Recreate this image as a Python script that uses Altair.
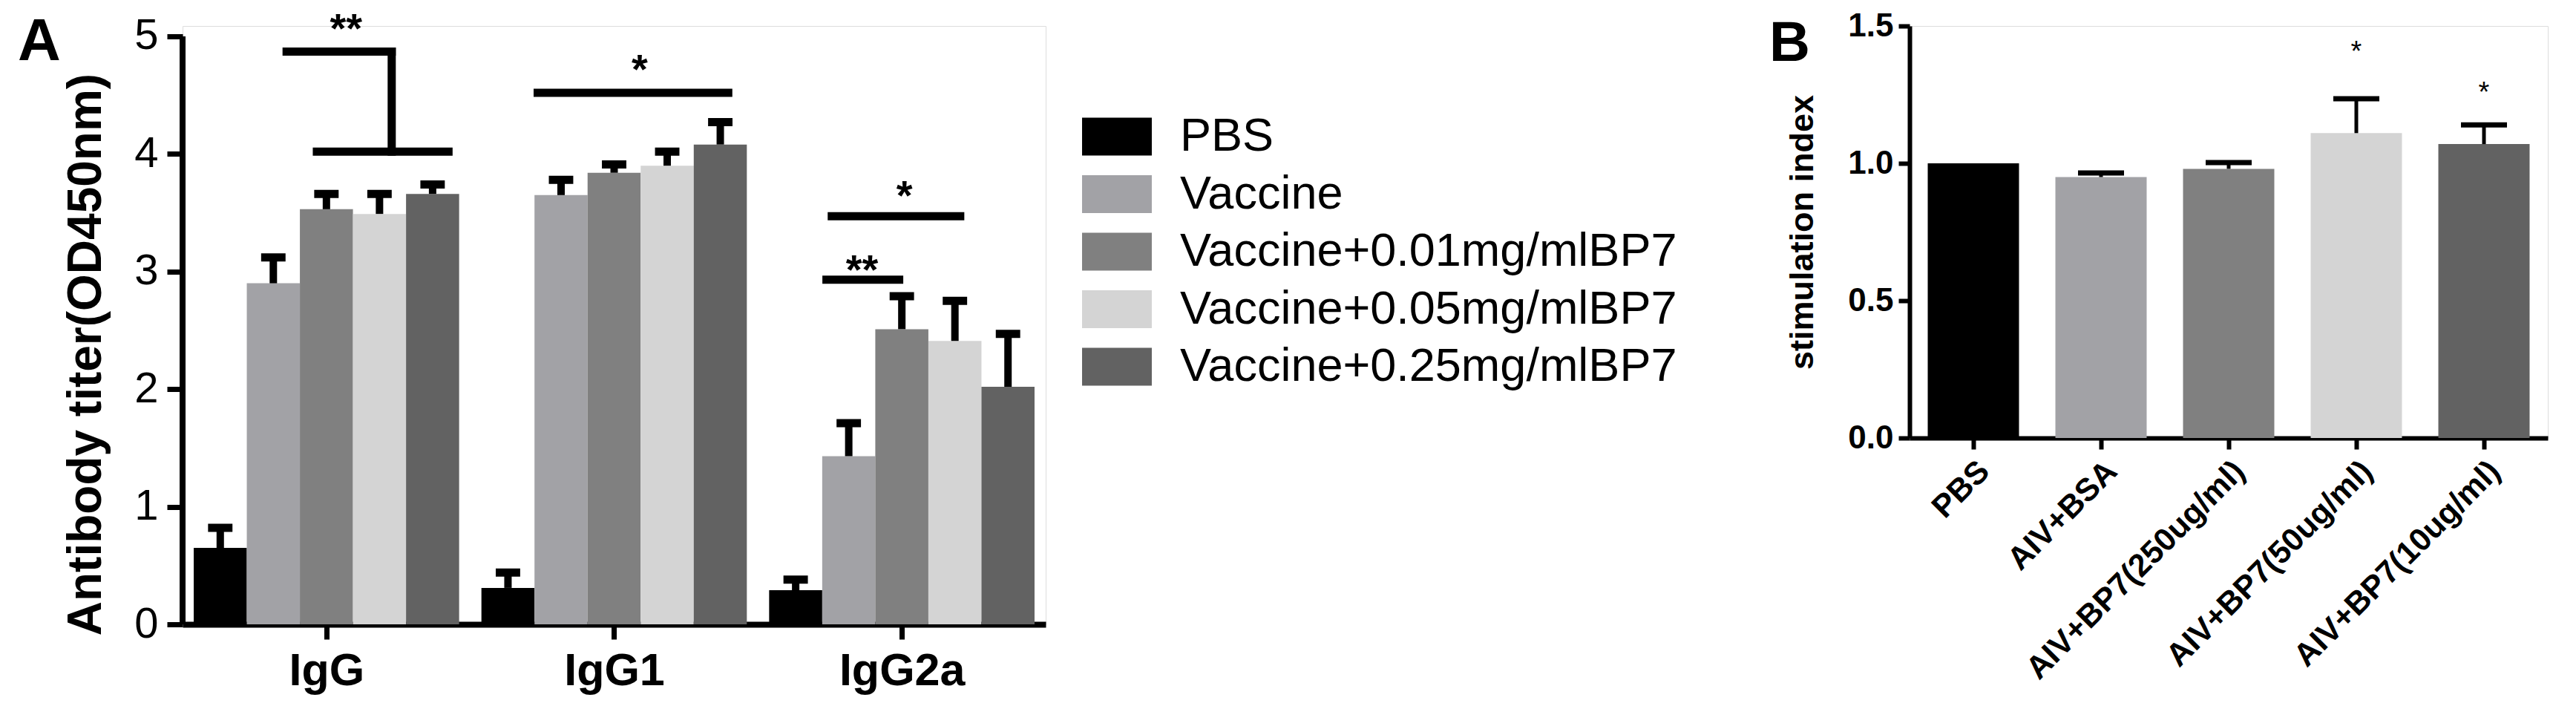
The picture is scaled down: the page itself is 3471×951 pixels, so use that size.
import json
import altair as alt
import pandas as pd

FONT = "Liberation Sans"

# ---------------- Panel A data ----------------
groups = ["IgG", "IgG1", "IgG2a"]
series = ["PBS", "Vaccine", "Vaccine+0.01mg/mlBP7",
          "Vaccine+0.05mg/mlBP7", "Vaccine+0.25mg/mlBP7"]
series_colors = ["#000000", "#a2a2a6", "#808080", "#d4d4d4", "#626262"]

igg_mean = [0.65, 2.90, 3.53, 3.49, 3.66]
igg_top = [0.82, 3.12, 3.66, 3.66, 3.74]
igg1_mean = [0.31, 3.65, 3.84, 3.90, 4.08]
igg1_top = [0.44, 3.78, 3.91, 4.02, 4.27]
igg2a_mean = [0.29, 1.43, 2.51, 2.41, 2.02]
igg2a_top = [0.38, 1.71, 2.79, 2.75, 2.47]

# significance brackets (group index, from/to in bar-index units, y levels)
sig_group = [0, 0, 0, 1, 2, 2]
sig_from = [1.25, 3.23, 1.82, 0.56, 0.58, 0.68]
sig_to = [3.23, 3.23, 4.30, 4.15, 1.95, 3.10]
sig_y = [4.87, 4.87, 4.02, 4.52, 2.93, 3.47]
sig_y2 = [4.87, 4.02, 4.02, 4.52, 2.93, 3.47]

star_group = [0, 1, 2, 2]
star_pos = [2.37, 2.48, 1.25, 2.05]
star_y = [4.95, 4.60, 2.90, 3.53]
star_text = ["**", "*", "**", "*"]

# ---------------- Panel B data ----------------
b_cats = ["PBS", "AIV+BSA", "AIV+BP7(250ug/ml)", "AIV+BP7(50ug/ml)", "AIV+BP7(10ug/ml)"]
b_colors = ["#000000", "#a2a2a6", "#808080", "#d4d4d4", "#626262"]
b_mean = [1.00, 0.95, 0.98, 1.11, 1.07]
b_top = [1.00, 0.965, 1.003, 1.235, 1.14]
b_star = ["", "", "", "*", "*"]
b_star_y = [None, None, None, 1.373, 1.224]

# ---------------- layout constants (panel A x units = bar widths) ----------------
GAP = 0.42
OUTER = 0.21
STRIDE = len(series) + GAP
DMAX = 2 * OUTER + len(groups) * len(series) + (len(groups) - 1) * GAP
A_W, A_H = 1163, 806
A_YMAX = 5.088
B_W, B_H = 860, 555

rows = []
for g, (gname, m, t) in enumerate(zip(groups, [igg_mean, igg1_mean, igg2a_mean],
                                       [igg_top, igg1_top, igg2a_top])):
    for j, s in enumerate(series):
        rows.append({"group": gname, "g": g, "series": s, "j": j, "mean": m[j], "top": t[j]})
df_a = pd.DataFrame(rows)

df_sig = pd.DataFrame({"g": sig_group, "a": sig_from, "b": sig_to, "y": sig_y, "y2": sig_y2})
df_star = pd.DataFrame({"g": star_group, "p": star_pos, "y": star_y, "t": star_text})

xs = alt.Scale(domain=[0, DMAX], nice=False, zero=False)
ys_a = alt.Scale(domain=[0, A_YMAX], nice=False)

centers = [g * STRIDE + OUTER + len(series) / 2 for g in range(len(groups))]
label_expr = "%s[round((datum.value - %f) / %f)]" % (json.dumps(groups), centers[0], STRIDE)

x_axis_a = alt.Axis(values=centers, labelExpr=label_expr, title=None, grid=False,
                    domain=True, domainWidth=8, domainColor="black",
                    ticks=True, tickSize=20, tickWidth=7, tickColor="black",
                    labelFont=FONT, labelFontSize=61, labelFontWeight="bold",
                    labelColor="black", labelPadding=13, labelAngle=0)
y_axis_a = alt.Axis(values=[0, 1, 2, 3, 4, 5], format="d", grid=False, domain=False,
                    ticks=True, tickSize=21, tickWidth=7, tickColor="black",
                    labelFont=FONT, labelFontSize=58, labelColor="black", labelPadding=12,
                    title="Antibody titer(OD450nm)", titleFont=FONT, titleFontSize=64,
                    titleFontWeight="bold", titleColor="black", titlePadding=32, titleY=442)

legend_a = alt.Legend(orient="none", legendX=1214, legendY=104, title=None,
                      symbolType="M-1.044,-0.567L1.044,-0.567L1.044,0.567L-1.044,0.567Z",
                      symbolSize=8100, symbolStrokeWidth=0, symbolOpacity=1,
                      labelFont=FONT, labelFontSize=63, labelColor="black",
                      labelOffset=40, rowPadding=0.5, padding=0, labelLimit=2000)

base_a = alt.Chart(df_a).transform_calculate(
    xc=f"datum.g * {STRIDE} + {OUTER} + datum.j + 0.5"
).transform_calculate(
    x0="datum.xc - 0.5", x1="datum.xc + 0.5",
    c0="datum.xc - 0.23", c1="datum.xc + 0.23"
)

bars_a = base_a.mark_rect().encode(
    x=alt.X("x0:Q", scale=xs, axis=x_axis_a),
    x2="x1:Q",
    y=alt.Y("mean:Q", scale=ys_a, axis=y_axis_a),
    y2=alt.datum(0),
    color=alt.Color("series:N", scale=alt.Scale(domain=series, range=series_colors),
                    legend=legend_a),
)
stems_a = base_a.mark_rule(color="black", strokeWidth=10).encode(
    x="xc:Q", y="mean:Q", y2="top:Q")
caps_a = base_a.mark_rule(color="black", strokeWidth=11).encode(
    x="c0:Q", x2="c1:Q", y="top:Q")

yline_a = alt.Chart(pd.DataFrame({"v": [0]})).mark_rule(color="black", strokeWidth=8).encode(
    x=alt.datum(0), y=alt.datum(0), y2=alt.datum(5))

sig_a = alt.Chart(df_sig).transform_calculate(
    xa=f"datum.g * {STRIDE} + {OUTER} + datum.a + 0.5",
    xb=f"datum.g * {STRIDE} + {OUTER} + datum.b + 0.5",
).mark_rule(color="black", strokeWidth=11, strokeCap="square").encode(
    x="xa:Q", x2="xb:Q", y="y:Q", y2="y2:Q")

stars_a = alt.Chart(df_star).transform_calculate(
    xp=f"datum.g * {STRIDE} + {OUTER} + datum.p + 0.5"
).mark_text(font=FONT, fontSize=56, fontWeight="bold", color="black",
            align="center", baseline="alphabetic").encode(
    x="xp:Q", y="y:Q", text="t:N")

letter_a = alt.Chart(pd.DataFrame({"t": ["A"]})).mark_text(
    font=FONT, fontSize=80, fontWeight="bold", color="black", align="left", baseline="top"
).encode(x=alt.value(-222), y=alt.value(-17), text="t:N")

panel_a = alt.layer(bars_a, stems_a, caps_a, yline_a, sig_a, stars_a, letter_a).properties(
    width=A_W, height=A_H)

# ---------------- Panel B ----------------
df_b = pd.DataFrame({"cat": b_cats, "mean": b_mean, "top": b_top,
                     "star": b_star, "star_y": b_star_y})

xb_scale = alt.Scale(domain=b_cats, paddingInner=0.285, paddingOuter=0.1425)
yb_scale = alt.Scale(domain=[0, 1.5], nice=False)

x_axis_b = alt.Axis(title=None, grid=False, domainWidth=6, domainColor="black",
                    tickSize=15, tickWidth=6, tickColor="black",
                    labelFont=FONT, labelFontSize=43, labelFontWeight="bold",
                    labelColor="black", labelAngle=-45, labelPadding=8, labelLimit=1000)
y_axis_b = alt.Axis(values=[0, 0.5, 1.0, 1.5], format=".1f", grid=False,
                    domainWidth=6, domainColor="black",
                    tickSize=15, tickWidth=6, tickColor="black",
                    labelFont=FONT, labelFontSize=44, labelFontWeight="bold",
                    labelColor="black", labelPadding=7,
                    title="stimulation index", titleFont=FONT, titleFontSize=45,
                    titleFontWeight="bold", titleColor="black", titlePadding=38)

base_b = alt.Chart(df_b)
bars_b = base_b.mark_bar().encode(
    x=alt.X("cat:N", sort=b_cats, scale=xb_scale, axis=x_axis_b),
    y=alt.Y("mean:Q", scale=yb_scale, axis=y_axis_b),
    color=alt.Color("cat:N", scale=alt.Scale(domain=b_cats, range=b_colors), legend=None),
)
err_b = base_b.transform_filter("datum.top > datum.mean")
stems_b = err_b.mark_rule(color="black", strokeWidth=5).encode(
    x=alt.X("cat:N", sort=b_cats), y="mean:Q", y2="top:Q")
caps_b = err_b.mark_tick(color="black", thickness=7, size=62, opacity=1).encode(
    x=alt.X("cat:N", sort=b_cats), y="top:Q")
stars_b = base_b.transform_filter("datum.star != ''").mark_text(
    font=FONT, fontSize=38, color="black", align="center", baseline="alphabetic"
).encode(x=alt.X("cat:N", sort=b_cats), y="star_y:Q", text="star:N")

letter_b = alt.Chart(pd.DataFrame({"t": ["B"]})).mark_text(
    font=FONT, fontSize=76, fontWeight="bold", color="black", align="left", baseline="top"
).encode(x=alt.value(-189), y=alt.value(-13), text="t:N")

panel_b = alt.layer(bars_b, stems_b, caps_b, stars_b, letter_b).properties(
    width=B_W, height=B_H)

chart = alt.hconcat(panel_a, panel_b, spacing=1164, bounds="flush").resolve_scale(
    color="independent"
).configure_view(stroke=None).configure(font=FONT).properties(
    padding={"left": 15, "top": 3, "right": 5, "bottom": 5}
)

chart.save("out.html", embed_options={"renderer": "svg", "actions": False})
